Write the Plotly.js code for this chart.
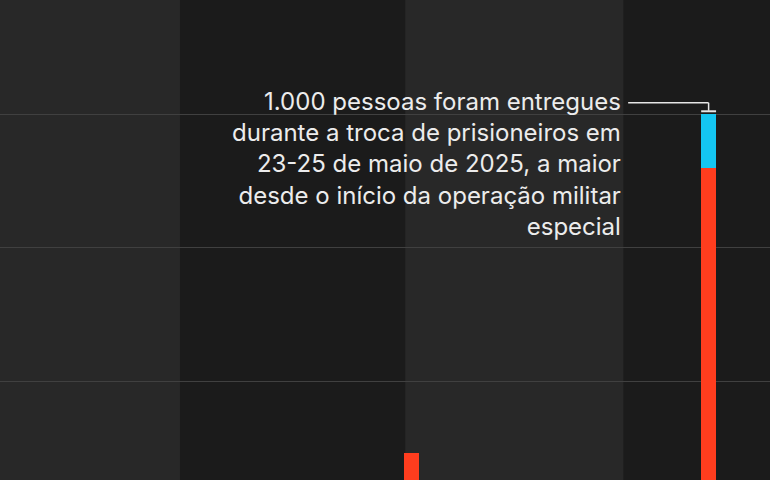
<!DOCTYPE html>
<html>
<head>
<meta charset="utf-8">
<script src="https://cdn.plot.ly/plotly-3.0.1.min.js"></script>
<style>html,body{margin:0;padding:0;background:#1b1b1b;}#chart{width:770px;height:480px;}</style>
</head>
<body>
<div id="chart"></div>
<script>
// Data
const exchangeDates = ['2024-01-12', '2025-05-24'];
const mainValues   = [366, 900];   // red segment
const extraValues  = [0, 100];     // blue segment
const bandYears    = [['2022-01-01', '2022-12-19'], ['2024-01-01', '2025-01-01']]; // lighter stripes
const noteText = '1.000 pessoas foram entregues<br>durante a troca de prisioneiros em<br>23-25 de maio de 2025, a maior<br>desde o início da operação militar<br>especial';

const RED = '#ff3d1e', BLUE = '#14c6f2';
const DAY = 86400000;

const traces = [
  {type: 'bar', x: exchangeDates, y: mainValues, width: 25 * DAY,
   marker: {color: RED, line: {width: 0}}, hoverinfo: 'skip'},
  {type: 'bar', x: exchangeDates, y: extraValues, width: 25 * DAY,
   marker: {color: BLUE, line: {width: 0}}, hoverinfo: 'skip'}
];

const shapes = bandYears.map(b => ({
  type: 'rect', xref: 'x', yref: 'paper', x0: b[0], x1: b[1], y0: 0, y1: 1,
  fillcolor: '#282828', line: {width: 0}, layer: 'below'
}));

const big = exchangeDates[1];
const bigMs = new Date(big + 'T00:00:00Z').getTime();
const LEAD = {color: '#e6e6e6', width: 1.5};
shapes.push({type: 'line', xref: 'x', yref: 'y', layer: 'above',
  x0: '2025-01-09', x1: big, y0: 1022, y1: 1022, line: LEAD});
shapes.push({type: 'line', xref: 'x', yref: 'y', layer: 'above',
  x0: big, x1: big, y0: 1022, y1: 1007, line: LEAD});
shapes.push({type: 'line', xref: 'x', yref: 'y', layer: 'above',
  x0: bigMs - 12.5 * DAY, x1: bigMs + 12.5 * DAY, y0: 1006, y1: 1006,
  line: {color: '#e6e6e6', width: 2}});

const layout = {
  width: 770, height: 480,
  margin: {l: 0, r: 0, t: 0, b: 0},
  paper_bgcolor: '#1b1b1b', plot_bgcolor: '#1b1b1b',
  barmode: 'stack', showlegend: false, bargap: 0,
  xaxis: {type: 'date', range: ['2022-02-20', '2025-09-04'], showgrid: false, zeroline: false,
          showticklabels: false, ticks: '', fixedrange: true},
  yaxis: {range: [315.5, 1214.4], tickmode: 'linear', tick0: 0, dtick: 250, showgrid: true,
          gridcolor: '#404040', gridwidth: 1, zeroline: false, showticklabels: false, ticks: '', fixedrange: true},
  shapes: shapes,
  annotations: [{
    xref: 'paper', yref: 'paper', x: 623 / 770, y: 1 - 85 / 480,
    xanchor: 'right', yanchor: 'top', align: 'right', showarrow: false,
    text: noteText,
    font: {family: 'Inter, Roboto, sans-serif', size: 24, color: '#ececec'}
  }]
};

Plotly.newPlot('chart', traces, layout, {displayModeBar: false, staticPlot: true});
</script>
</body>
</html>
